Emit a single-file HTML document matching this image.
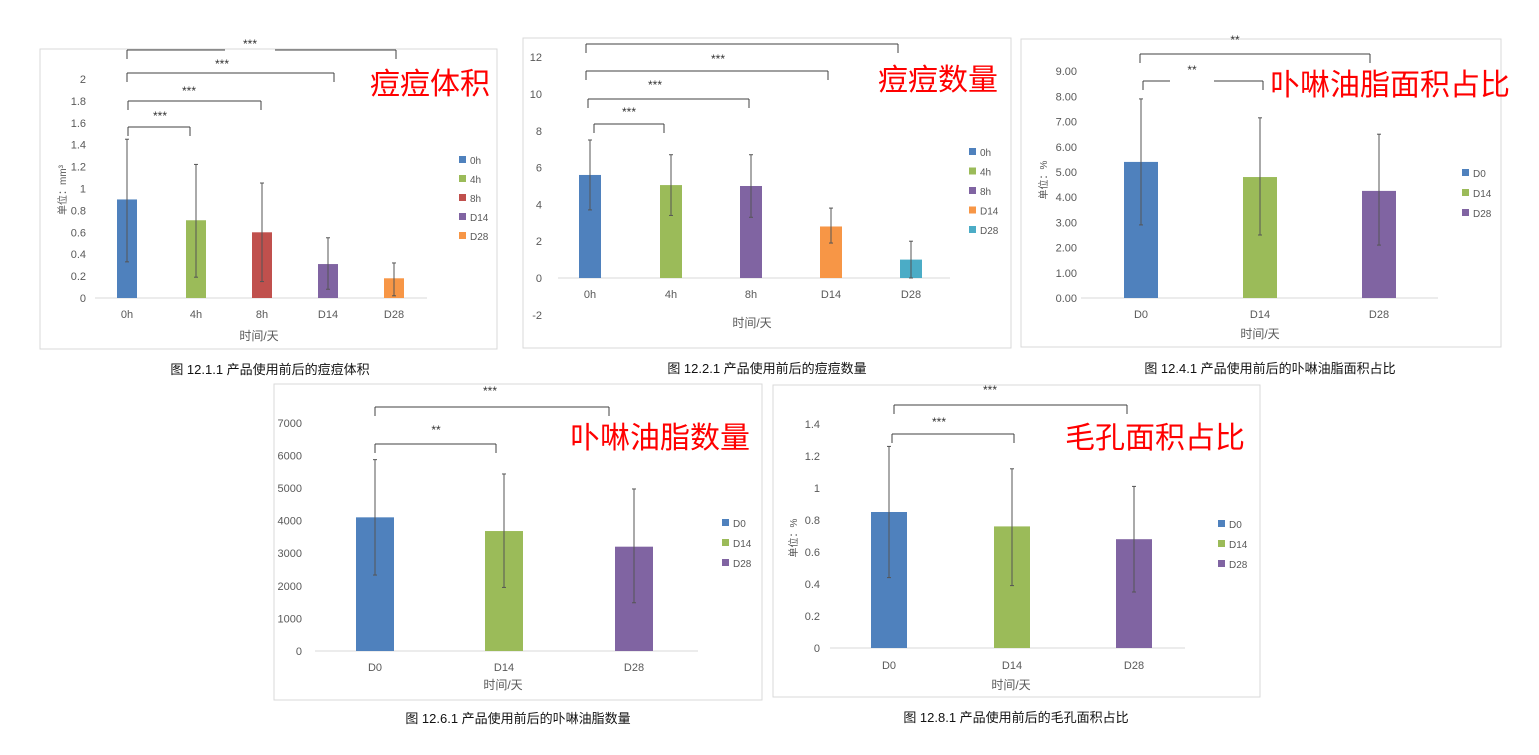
<!DOCTYPE html>
<html><head><meta charset="utf-8">
<style>
html,body{margin:0;padding:0;background:#fff;width:1539px;height:755px;overflow:hidden}
svg{display:block}
text{font-family:"Liberation Sans","Noto Sans CJK SC",sans-serif}
</style></head>
<body>
<svg id="s" width="1539" height="755" xmlns="http://www.w3.org/2000/svg"></svg>
<script>
const C={b:'#4f81bd',g:'#9bbb59',r:'#c0504d',p:'#8064a2',o:'#f79646',t:'#4bacc6'};
let h='';
function T(x,y,s,o){o=o||{};h+=`<text x="${x}" y="${y}" font-size="${o.fs||11}" fill="${o.c||'#595959'}" text-anchor="${o.a||'middle'}" ${o.tr?`transform="${o.tr}"`:''} ${o.ff?`font-family="${o.ff}"`:''}>${s}</text>`;}
function L(x1,y1,x2,y2,c,w){h+=`<line x1="${x1}" y1="${y1}" x2="${x2}" y2="${y2}" stroke="${c||'#595959'}" stroke-width="${w||1}"/>`;}
function br(x1,x2,y,stars,sx,sy,gap){
  if(gap){L(x1,y,sx-gap,y,'#404040');L(sx+gap,y,x2,y,'#404040');}else L(x1,y,x2,y,'#404040');
  L(x1,y,x1,y+9,'#404040');L(x2,y,x2,y+9,'#404040');
  T(sx,sy,stars,{fs:12,c:'#333'});
}
function chart(c){
  h+=`<rect x="${c.bx}" y="${c.by}" width="${c.bw}" height="${c.bh}" fill="#fff" stroke="#d9d9d9"/>`;
  c.ticks.forEach((v,i)=>{const y=c.y0-(v-c.tmin0)*c.k;T(c.lx,y+4,c.fmt(v),{a:'end'});});
  L(c.ax1,c.y0z,c.ax2,c.y0z,'#d9d9d9');
  c.bars.forEach(b=>{
    const yt=c.y0z-b.v*c.k, yb=c.y0z;
    h+=`<rect x="${b.x-c.w/2}" y="${Math.min(yt,yb)}" width="${c.w}" height="${Math.abs(yb-yt)}" fill="${b.c}"/>`;
    const e1=c.y0z-b.lo*c.k,e2=c.y0z-b.hi*c.k;
    L(b.x,e1,b.x,e2,'#555');L(b.x-2,e1,b.x+2,e1,'#555');L(b.x-2,e2,b.x+2,e2,'#555');
    T(b.x,c.xly,b.n);
  });
  c.bars.forEach((b,i)=>{const y=c.legy+i*c.legd;h+=`<rect x="${c.legx}" y="${y-8}" width="7" height="7" fill="${b.c}"/>`;T(c.legx+11,y,b.n,{a:'start',fs:10});});
  T(c.xtx,c.xty,'时间/天',{fs:12});
  if(c.ylab)T(0,0,c.ylab,{fs:10,tr:`translate(${c.ylx},${c.yly}) rotate(-90)`});
  T(c.rtx,c.rty,c.rt,{fs:30,c:'#ff0000'});
  T(c.cx,c.cy,c.cap,{fs:13,c:'#111',ff:'Liberation Serif, Noto Serif CJK SC, serif'});
  c.br.forEach(a=>br(...a));
}
// chart 1
chart({bx:40,by:49,bw:457,bh:300,lx:86,y0:298,tmin0:0,k:109.5,y0z:298,ax1:95,ax2:427,w:20,
 ticks:[0,0.2,0.4,0.6,0.8,1,1.2,1.4,1.6,1.8,2],fmt:v=>String(+v.toFixed(1)),
 bars:[{x:127,v:0.9,lo:0.33,hi:1.45,c:C.b,n:'0h'},{x:196,v:0.71,lo:0.19,hi:1.22,c:C.g,n:'4h'},{x:262,v:0.6,lo:0.15,hi:1.05,c:C.r,n:'8h'},{x:328,v:0.31,lo:0.08,hi:0.55,c:C.p,n:'D14'},{x:394,v:0.18,lo:0.02,hi:0.32,c:C.o,n:'D28'}],
 xly:318,legx:459,legy:164,legd:19,xtx:259,xty:340,ylab:'单位：mm³',ylx:66,yly:190,rt:'痘痘体积',rtx:430,rty:94,cx:270,cy:374,cap:'图  12.1.1  产品使用前后的痘痘体积',
 br:[[127,396,50,'***',250,48,25],[127,334,73,'***',222,68],[128,261,101,'***',189,95],[128,190,127,'***',160,120]]});
// chart 2
chart({bx:523,by:38,bw:488,bh:310,lx:542,y0:278,tmin0:0,k:18.4,y0z:278,ax1:558,ax2:950,w:22,
 ticks:[-2,0,2,4,6,8,10,12],fmt:v=>String(v),
 bars:[{x:590,v:5.6,lo:3.7,hi:7.5,c:C.b,n:'0h'},{x:671,v:5.05,lo:3.4,hi:6.7,c:C.g,n:'4h'},{x:751,v:5.0,lo:3.3,hi:6.7,c:C.p,n:'8h'},{x:831,v:2.8,lo:1.9,hi:3.8,c:C.o,n:'D14'},{x:911,v:1.0,lo:0,hi:2,c:C.t,n:'D28'}],
 xly:298,legx:969,legy:156,legd:19.5,xtx:752,xty:327,rt:'痘痘数量',rtx:938,rty:90,cx:767,cy:373,cap:'图  12.2.1  产品使用前后的痘痘数量',
 br:[[586,898,44,'',0,0],[586,828,71,'***',718,63],[588,749,99,'***',655,89],[594,664,124,'***',629,116]]});
// chart 3
chart({bx:1021,by:39,bw:480,bh:308,lx:1077,y0:298,tmin0:0,k:25.2,y0z:298,ax1:1081,ax2:1438,w:34,
 ticks:[0,1,2,3,4,5,6,7,8,9],fmt:v=>v.toFixed(2),
 bars:[{x:1141,v:5.4,lo:2.9,hi:7.9,c:C.b,n:'D0'},{x:1260,v:4.8,lo:2.5,hi:7.15,c:C.g,n:'D14'},{x:1379,v:4.25,lo:2.1,hi:6.5,c:C.p,n:'D28'}],
 xly:318,legx:1462,legy:177,legd:20,xtx:1260,xty:338,ylab:'单位：%',ylx:1047,yly:180,rt:'卟啉油脂面积占比',rtx:1390,rty:95,cx:1270,cy:373,cap:'图  12.4.1  产品使用前后的卟啉油脂面积占比',
 br:[[1140,1370,54,'**',1235,44,0],[1143,1263,81,'**',1192,74,22]]});
// chart 4
chart({bx:274,by:384,bw:488,bh:316,lx:302,y0:651,tmin0:0,k:0.0326,y0z:651,ax1:315,ax2:698,w:38,
 ticks:[0,1000,2000,3000,4000,5000,6000,7000],fmt:v=>String(v),
 bars:[{x:375,v:4100,lo:2330,hi:5870,c:C.b,n:'D0'},{x:504,v:3680,lo:1950,hi:5430,c:C.g,n:'D14'},{x:634,v:3200,lo:1480,hi:4970,c:C.p,n:'D28'}],
 xly:671,legx:722,legy:527,legd:20,xtx:503,xty:689,rt:'卟啉油脂数量',rtx:660,rty:448,cx:518,cy:723,cap:'图  12.6.1  产品使用前后的卟啉油脂数量',
 br:[[375,609,407,'***',490,395],[375,496,444,'**',436,434]]});
// chart 5
chart({bx:773,by:385,bw:487,bh:312,lx:820,y0:648,tmin0:0,k:160,y0z:648,ax1:830,ax2:1185,w:36,
 ticks:[0,0.2,0.4,0.6,0.8,1,1.2,1.4],fmt:v=>String(+v.toFixed(1)),
 bars:[{x:889,v:0.85,lo:0.44,hi:1.26,c:C.b,n:'D0'},{x:1012,v:0.76,lo:0.39,hi:1.12,c:C.g,n:'D14'},{x:1134,v:0.68,lo:0.35,hi:1.01,c:C.p,n:'D28'}],
 xly:669,legx:1218,legy:528,legd:20,xtx:1011,xty:689,ylab:'单位：%',ylx:797,yly:538,rt:'毛孔面积占比',rtx:1155,rty:448,cx:1016,cy:722,cap:'图  12.8.1  产品使用前后的毛孔面积占比',
 br:[[894,1127,405,'***',990,394],[892,1014,434,'***',939,426]]});
document.getElementById('s').innerHTML=h;
</script>
</body></html>
